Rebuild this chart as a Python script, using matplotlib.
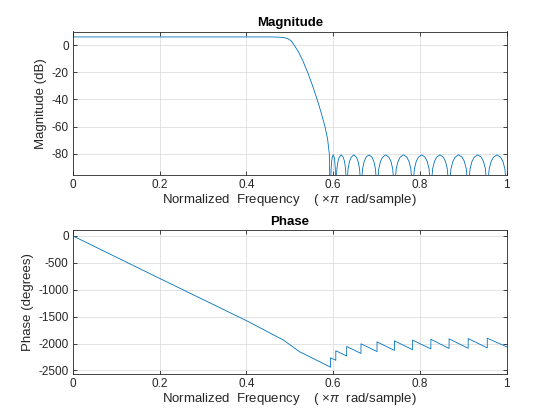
import matplotlib
matplotlib.use("Agg")
import matplotlib.pyplot as plt

# values (freqz style plot)
pass_f = [0.0, 0.45, 0.47, 0.485, 0.495, 0.503, 0.51, 0.52, 0.53, 0.541, 0.552,
          0.563, 0.572, 0.581, 0.587, 0.591]
pass_db = [6.0, 6.0, 5.9, 5.6, 4.8, 3.2, 0.0, -5.0, -11.5, -20.0, -29.5,
           -40.0, -49.5, -60.0, -69.0, -80.0]

# stopband lobes, one row per lobe (null -> peak -> next null)
stop_f = [
    0.594, 0.5945, 0.5952, 0.5964, 0.5978, 0.600, 0.6022, 0.6036, 0.6048, 0.6055,
    0.606, 0.607, 0.6085, 0.611, 0.614, 0.6185, 0.623, 0.626, 0.6285, 0.630,
    0.631, 0.6323, 0.6343, 0.6376, 0.6416, 0.6475, 0.6534, 0.6574, 0.6607, 0.6627,
    0.664, 0.6655, 0.6677, 0.6714, 0.6758, 0.6825, 0.6892, 0.6936, 0.6973, 0.6995,
    0.701, 0.7026, 0.705, 0.709, 0.7138, 0.721, 0.7282, 0.733, 0.737, 0.7394,
    0.741, 0.7427, 0.7452, 0.7494, 0.7544, 0.762, 0.7696, 0.7746, 0.7788, 0.7813,
    0.783, 0.7847, 0.7872, 0.7914, 0.7964, 0.804, 0.8116, 0.8166, 0.8208, 0.8233,
    0.825, 0.8267, 0.8292, 0.8334, 0.8384, 0.846, 0.8536, 0.8586, 0.8628, 0.8653,
    0.867, 0.8688, 0.8714, 0.8758, 0.8811, 0.889, 0.8969, 0.9022, 0.9066, 0.9092,
    0.911, 0.9128, 0.9154, 0.9198, 0.9251, 0.933, 0.9409, 0.9462, 0.9506, 0.9532,
    0.955, 0.9568, 0.9595, 0.964, 0.9694, 0.9775, 0.9856, 0.991, 0.9955, 0.9982,
    1.0,
]
stop_db = [
    -130, -100, -91, -85.6, -82.5, -80.8, -82.5, -85.6, -91, -100,
    -130, -100, -91, -85.6, -82.5, -80.8, -82.5, -85.6, -91, -100,
    -130, -100, -91, -85.6, -82.5, -80.8, -82.5, -85.6, -91, -100,
    -130, -100, -91, -85.6, -82.5, -80.8, -82.5, -85.6, -91, -100,
    -130, -100, -91, -85.6, -82.5, -80.8, -82.5, -85.6, -91, -100,
    -130, -100, -91, -85.6, -82.5, -80.8, -82.5, -85.6, -91, -100,
    -130, -100, -91, -85.6, -82.5, -80.8, -82.5, -85.6, -91, -100,
    -130, -100, -91, -85.6, -82.5, -80.8, -82.5, -85.6, -91, -100,
    -130, -100, -91, -85.6, -82.5, -80.8, -82.5, -85.6, -91, -100,
    -130, -100, -91, -85.6, -82.5, -80.8, -82.5, -85.6, -91, -100,
    -130, -100, -91, -85.6, -82.5, -80.8, -82.5, -85.6, -91, -100,
    -130,
]

# phase: linear part, then +180 deg jumps at each stopband null
phase_f = [0.0, 0.2, 0.4, 0.485, 0.523,
           0.594, 0.594, 0.606, 0.606, 0.631, 0.631, 0.664, 0.664,
           0.701, 0.701, 0.741, 0.741, 0.783, 0.783, 0.825, 0.825,
           0.867, 0.867, 0.911, 0.911, 0.955, 0.955, 1.0]
phase_deg = [0, -790, -1575, -1935, -2155,
             -2440, -2265, -2312, -2135, -2232, -2055, -2185, -2005,
             -2150, -1970, -2128, -1950, -2116, -1938, -2100, -1922,
             -2092, -1914, -2088, -1908, -2082, -1902, -2062]

mag_ticks = [0, -20, -40, -60, -80]
phase_ticks = [0, -500, -1000, -1500, -2000, -2500]
freq_ticks = [0, 0.2, 0.4, 0.6, 0.8, 1]

plt.rcParams["font.family"] = ["Liberation Sans", "DejaVu Sans"]
plt.rcParams["mathtext.fontset"] = "custom"
plt.rcParams["mathtext.rm"] = "Liberation Sans"
plt.rcParams["mathtext.it"] = "Liberation Sans:italic"
plt.rcParams["axes.unicode_minus"] = False

FG = "#262626"
LINE = "#0072BD"
XLAB = r"Normalized  Frequency    ( $\times\pi$  rad/sample)"

fig = plt.figure(figsize=(5.6, 4.2), dpi=100)
ax1 = fig.add_axes([0.13, 0.5838, 0.775, 0.3412])
ax2 = fig.add_axes([0.13, 0.11, 0.775, 0.3412])

ax1.plot(pass_f + stop_f, pass_db + stop_db, color=LINE, lw=0.6)
ax1.set_ylim(-95.5, 10)
ax1.set_yticks(mag_ticks)
ax1.set_title("Magnitude", fontsize=9.5, fontweight="bold", color="black", pad=4)
ax1.set_ylabel("Magnitude (dB)", fontsize=9.5, color=FG, labelpad=3)

ax2.plot(phase_f, phase_deg, color=LINE, lw=0.6)
ax2.set_ylim(-2563, 100)
ax2.set_yticks(phase_ticks)
ax2.set_title("Phase", fontsize=9.5, fontweight="bold", color="black", pad=4)
ax2.set_ylabel("Phase (degrees)", fontsize=9.5, color=FG, labelpad=3)

for ax in (ax1, ax2):
    ax.set_xlim(0, 1)
    ax.set_xticks(freq_ticks)
    ax.set_xticklabels(["0", "0.2", "0.4", "0.6", "0.8", "1"])
    ax.set_xlabel(XLAB, fontsize=9.5, color=FG, labelpad=1)
    ax.grid(True, color="#dedede", lw=0.6)
    ax.set_axisbelow(True)
    ax.tick_params(direction="in", top=True, right=True, length=3, width=0.6,
                   labelsize=8.5, colors=FG, pad=3)
    for s in ax.spines.values():
        s.set_color(FG)
        s.set_linewidth(0.6)

fig.savefig("out.png", dpi=100)
